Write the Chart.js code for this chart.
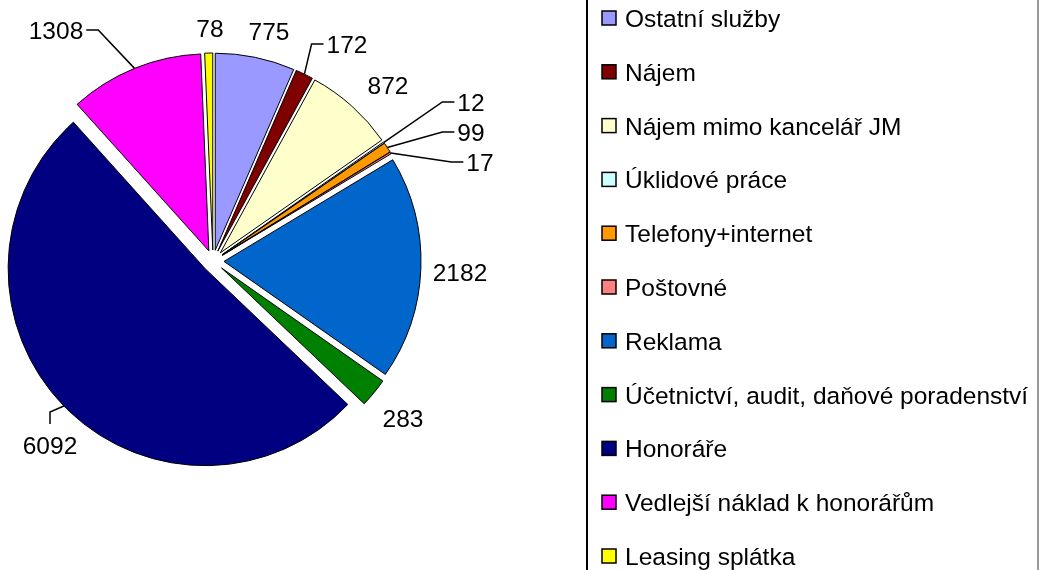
<!DOCTYPE html>
<html>
<head>
<meta charset="utf-8">
<script src="https://cdn.jsdelivr.net/npm/chart.js@4/dist/chart.umd.min.js"></script>
<style>
  html, body { margin: 0; padding: 0; background: #fff; }
  #wrap { width: 1039px; height: 570px; }
</style>
</head>
<body>
<div id="wrap"><canvas id="pieChart" width="1039" height="570"></canvas></div>
<script>
// ---------- data ----------
const categories = [
  'Ostatní služby', 'Nájem', 'Nájem mimo kancelář JM', 'Úklidové práce',
  'Telefony+internet', 'Poštovné', 'Reklama',
  'Účetnictví, audit, daňové poradenství', 'Honoráře',
  'Vedlejší náklad k honorářům', 'Leasing splátka'
];
const costs = [775, 172, 872, 12, 99, 17, 2182, 283, 6092, 1308, 78];
const sliceColors = [
  '#9999FF', '#800000', '#FFFFCC', '#CCFFFF', '#FF9900', '#FF8080',
  '#0066CC', '#008000', '#000080', '#FF00FF', '#FFFF00'
];

// ---------- layout (not data) ----------
const FONT = '24.5px "Liberation Sans", Arial, sans-serif';
const EXPLODE = 11;      // px every slice is pushed out along its mid angle
const PIE_R = 197;
// value label centres, relative to pie centre
const labelSpots = [[56,-230],[134,-217],[175,-176],[258,-159],[258,-129],[267,-99],
                    [247,11],[190,157],[-163,184],[-157,-231],[-3,-233]];
const leaderSides = [null,'right',null,'right','right','right',null,null,'below','left',null];

// push each slice out (like Excel "exploded pie") without shrinking its angle
const explodePlugin = {
  id: 'explode',
  afterDatasetUpdate(chart, args) {
    args.meta.data.forEach(arc => {
      const mid = (arc.startAngle + arc.endAngle) / 2;
      arc.x += Math.cos(mid) * EXPLODE;
      arc.y += Math.sin(mid) * EXPLODE;
    });
  }
};

// value labels with leader lines
const valueLabels = {
  id: 'valueLabels',
  afterDatasetsDraw(chart) {
    const ctx = chart.ctx;
    const ca = chart.chartArea;
    const cx = (ca.left + ca.right) / 2, cy = (ca.top + ca.bottom) / 2;
    const arcs = chart.getDatasetMeta(0).data;
    ctx.save();
    ctx.font = FONT;
    ctx.fillStyle = '#000';
    ctx.strokeStyle = '#000';
    ctx.lineWidth = 1.5;
    arcs.forEach((arc, i) => {
      const txt = String(costs[i]);
      const tx = cx + labelSpots[i][0], ty = cy + labelSpots[i][1];
      const w = ctx.measureText(txt).width;
      ctx.textAlign = 'center';
      ctx.textBaseline = 'alphabetic';
      ctx.fillText(txt, tx, ty + 9);
      const side = leaderSides[i];
      if (!side) return;
      const mid = (arc.startAngle + arc.endAngle) / 2;
      const ex = arc.x + Math.cos(mid) * arc.outerRadius;
      const ey = arc.y + Math.sin(mid) * arc.outerRadius;
      let end, elbow;
      if (side === 'right') { end = [tx - w / 2 - 3, ty]; elbow = [end[0] - 12, ty]; }
      else if (side === 'left') { end = [tx + w / 2 + 3, ty]; elbow = [end[0] + 12, ty]; }
      else { end = [tx, ty - 21]; elbow = [tx, ty - 33]; }
      ctx.beginPath();
      ctx.moveTo(ex, ey);
      ctx.lineTo(elbow[0], elbow[1]);
      ctx.lineTo(end[0], end[1]);
      ctx.stroke();
    });
    ctx.restore();
  }
};

// boxed legend on the right, partly running off the picture
const boxLegend = {
  id: 'boxLegend',
  afterDraw(chart) {
    const ctx = chart.ctx;
    const ds = chart.data.datasets[0];
    ctx.save();
    ctx.strokeStyle = '#000';
    ctx.lineWidth = 2;
    ctx.beginPath(); ctx.moveTo(587, -5); ctx.lineTo(587, 575); ctx.stroke();
    ctx.strokeStyle = '#999';
    ctx.beginPath(); ctx.moveTo(1038, -5); ctx.lineTo(1038, 575); ctx.stroke();
    ctx.font = FONT;
    ctx.textAlign = 'left';
    ctx.textBaseline = 'alphabetic';
    chart.data.labels.forEach((lab, i) => {
      const y = 18 + i * 53.8;
      ctx.fillStyle = ds.backgroundColor[i];
      ctx.fillRect(602, y - 7, 14, 14);
      ctx.strokeStyle = '#000';
      ctx.lineWidth = 1.5;
      ctx.strokeRect(602, y - 7, 14, 14);
      ctx.fillStyle = '#000';
      ctx.fillText(lab, 625, y + 9);
    });
    ctx.restore();
  }
};

new Chart(document.getElementById('pieChart'), {
  type: 'pie',
  data: {
    labels: categories,
    datasets: [{
      data: costs,
      backgroundColor: sliceColors,
      borderColor: '#000',
      borderWidth: 1
    }]
  },
  options: {
    responsive: false,
    animation: false,
    radius: PIE_R,
    layout: { padding: { left: 0, top: 0, right: 613, bottom: 48 } },
    plugins: { legend: { display: false }, tooltip: { enabled: false } }
  },
  plugins: [explodePlugin, valueLabels, boxLegend]
});
</script>
</body>
</html>
